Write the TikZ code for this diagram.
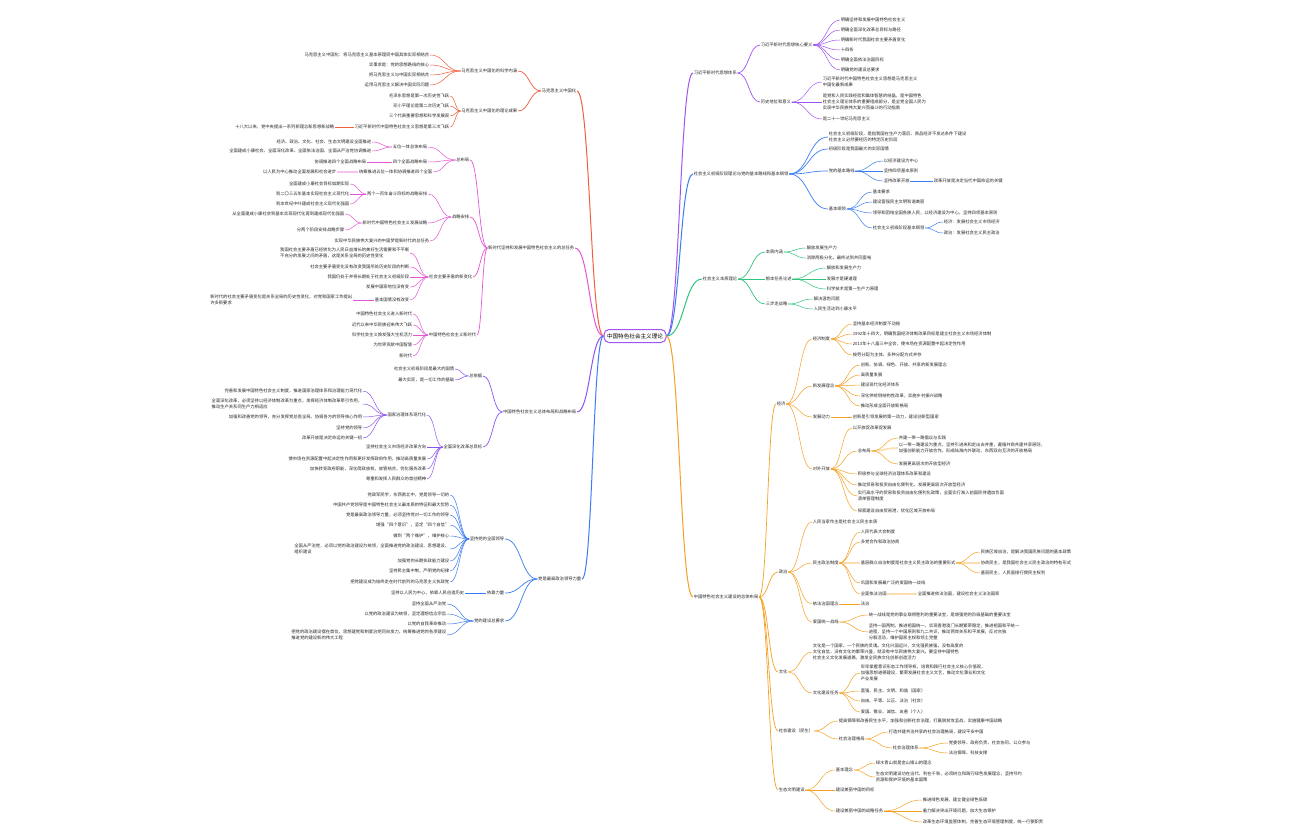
\documentclass[tikz,border=0pt]{standalone}
\usepackage{fontspec}
\setmainfont{Noto Sans CJK SC}
\usetikzlibrary{calc}
\definecolor{rd}{HTML}{F06040}
\definecolor{pk}{HTML}{E655D5}
\definecolor{pu}{HTML}{8C55EE}
\definecolor{bl}{HTML}{3C7DF2}
\definecolor{vi}{HTML}{A055F0}
\definecolor{gn}{HTML}{30C47E}
\definecolor{og}{HTML}{F5A020}
\tikzset{
 nd/.style={font=\fontsize{4.3}{6.3}\selectfont,inner sep=0.6pt,align=left,text=black!85},
 w3/.style={line width=1pt},
 w2/.style={line width=0.7pt},
 w1/.style={line width=0.5pt},
 pale/.style={line width=1.6pt,opacity=0.35},
}
\newcommand\lnk[3]{\draw[#1] let \p1=(#2), \p2=(#3) in (\p1) .. controls ({(\x1+\x2)/2},\y1) and ({(\x1+\x2)/2},\y2) .. (\p2);}
\newcommand\NL[6]{\node[nd,anchor=east] (#1) at (#2,#3) {#4}; \lnk{#6}{#5.west}{#1.east}}
\newcommand\NR[6]{\node[nd,anchor=west] (#1) at (#2,#3) {#4}; \lnk{#6}{#5.east}{#1.west}}
\begin{document}
\begin{tikzpicture}[x=1pt,y=-1pt]
\useasboundingbox[fill=white] (0,0) rectangle (1296,840);
\node[draw=vi,line width=1pt,rounded corners=5pt,font=\fontsize{5.6}{7}\selectfont,inner sep=3pt,minimum height=13pt] (c) at (635,336) {中国特色社会主义理论};
% ================= LEFT: L1 red
\NL{L1}{577}{91}{马克思主义中国化}{c}{rd,w3}
\NL{L1a}{518}{71}{马克思主义中国化的科学内涵}{L1}{rd,w2}
\NL{L1a1}{430}{55}{马克思主义中国化：将马克思主义基本原理同中国具体实际相结合}{L1a}{rd,w1}
\NL{L1a2}{430}{65}{实事求是：党的思想路线的核心}{L1a}{rd,w1}
\NL{L1a3}{430}{75}{把马克思主义与中国实际相结合}{L1a}{rd,w1}
\NL{L1a4}{430}{85}{运用马克思主义解决中国实际问题}{L1a}{rd,w1}
\NL{L1b}{518}{111}{马克思主义中国化的理论成果}{L1}{rd,w2}
\NL{L1b1}{450}{96}{毛泽东思想是第一次历史性飞跃}{L1b}{rd,w1}
\NL{L1b2}{450}{106}{邓小平理论是第二次历史飞跃}{L1b}{rd,w1}
\NL{L1b3}{450}{116}{三个代表重要思想和科学发展观}{L1b}{rd,w1}
\NL{L1b4}{450}{127}{习近平新时代中国特色社会主义思想是第三次飞跃}{L1b}{rd,w1}
\NL{L1b5}{335}{127}{十八大以来，党中央提出一系列新理念新思想新战略}{L1b4}{rd,w1}
% ================= L2 pink
\NL{L2}{575}{248}{新时代坚持和发展中国特色社会主义的总任务}{c}{pk,w3}
\NL{A}{470}{160}{总布局}{L2}{pk,w2}
\NL{A1}{428}{147}{五位一体总体布局}{A}{pk,w1}
\NL{A1x}{372}{142}{经济、政治、文化、社会、生态文明建设全面推进}{A1}{pk,w1}
\NL{A1y}{372}{151}{全面建成小康社会、全面深化改革、全面依法治国、全面从严治党协调推进}{A1}{pk,w1}
\NL{A2}{428}{162}{四个全面战略布局}{A}{pk,w1}
\NL{A2x}{367}{162}{协调推进四个全面战略布局}{A2}{pk,w1}
\NL{A3}{433}{172}{统筹推进五位一体和协调推进四个全面}{A}{pk,w1}
\NL{A3x}{337}{172}{以人民为中心推动全面发展和社会进步}{A3}{pk,pale}
\NL{B}{470}{217}{战略安排}{L2}{pk,w2}
\NL{B1}{428}{194}{两个一百年奋斗目标的战略安排}{B}{pk,w1}
\NL{B1x}{350}{184}{全面建成小康社会目标如期实现}{B1}{pk,w1}
\NL{B1y}{350}{194}{到二〇三五年基本实现社会主义现代化}{B1}{pk,w1}
\NL{B1z}{350}{204}{到本世纪中叶建成社会主义现代化强国}{B1}{pk,w1}
\NL{B2}{428}{223}{新时代中国特色社会主义发展战略}{B}{pk,w1}
\NL{B2x}{345}{214}{从全面建成小康社会到基本实现现代化再到建成现代化强国}{B2}{pk,w1}
\NL{B2y}{345}{230}{分两个阶段安排战略步骤}{B2}{pk,w1}
\NL{B3}{430}{241}{实现中华民族伟大复兴的中国梦是新时代的总任务}{B}{pk,w1}
\NL{C}{473}{277}{社会主要矛盾的新变化}{L2}{pk,w2}
\NL{C1}{410}{253}{我国社会主要矛盾已经转化为人民日益增长的美好生活需要和不平衡\\不充分的发展之间的矛盾，这是关系全局的历史性变化}{C}{pk,w1}
\NL{C2}{410}{267}{社会主要矛盾变化没有改变我国所处历史阶段的判断}{C}{pk,w1}
\NL{C3}{410}{277}{我国仍处于并将长期处于社会主义初级阶段}{C}{pk,w1}
\NL{C4}{410}{287}{发展中国家地位没有变}{C}{pk,w1}
\NL{C5}{410}{300}{基本国情没有改变}{C}{pk,w1}
\NL{C5x}{353}{300}{新时代的社会主要矛盾变化是关系全局的历史性变化，对党和国家工作提出\\许多新要求}{C5}{pk,w1}
\NL{D}{477}{335}{中国特色社会主义新时代}{L2}{pk,w2}
\NL{D1}{413}{314}{中国特色社会主义进入新时代}{D}{pk,w1}
\NL{D2}{413}{325}{近代以来中华民族迎来伟大飞跃}{D}{pk,w1}
\NL{D3}{413}{335}{科学社会主义焕发强大生机活力}{D}{pk,w1}
\NL{D4}{413}{345}{为世界贡献中国智慧}{D}{pk,w1}
\NL{D5}{413}{356}{新时代}{D}{pk,w1}
% ================= L3 purple
\NL{L3}{577}{412}{中国特色社会主义总体布局和战略布局}{c}{pu,w3}
\NL{E}{483}{376}{总依据}{L3}{pu,w2}
\NL{E1}{455}{369}{社会主义初级阶段是最大的国情}{E}{pu,w1}
\NL{E2}{455}{380}{最大实际，是一切工作的基础}{E}{pu,w1}
\NL{F}{483}{447}{全面深化改革总目标}{L3}{pu,w2}
\NL{F1}{427}{415}{国家治理体系现代化}{F}{pu,w1}
\NL{F1a}{363}{391}{完善和发展中国特色社会主义制度，推进国家治理体系和治理能力现代化}{F1}{pu,w1}
\NL{F1b}{363}{404}{全面深化改革，必须坚持以经济体制改革为重点，发挥经济体制改革牵引作用，\\推动生产关系同生产力相适应}{F1}{pu,w1}
\NL{F1c}{363}{417}{加强和改善党的领导，充分发挥党总揽全局、协调各方的领导核心作用}{F1}{pu,w1}
\NL{F1d}{363}{428}{坚持党的领导}{F1}{pu,w1}
\NL{F1e}{363}{438}{改革开放是决定命运的关键一招}{F1}{pu,w1}
\NL{F2}{427}{447}{坚持社会主义市场经济改革方向}{F}{pu,w1}
\NL{F3}{427}{459}{使市场在资源配置中起决定性作用和更好发挥政府作用，推动高质量发展}{F}{pu,w1}
\NL{F4}{427}{469}{加快转变政府职能，深化简政放权，放管结合，优化服务改革}{F}{pu,w1}
\NL{F5}{427}{479}{尊重和发挥人民群众的首创精神}{F}{pu,w1}
% ================= L4 blue
\NL{L4}{582}{579}{党是最高政治领导力量}{c}{bl,w3}
\NL{G}{505}{539}{坚持党的全面领导}{L4}{bl,w2}
\NL{G1}{450}{495}{党政军民学，东西南北中，党是领导一切的}{G}{bl,w1}
\NL{G2}{450}{505}{中国共产党领导是中国特色社会主义最本质的特征和最大优势}{G}{bl,w1}
\NL{G3}{450}{515}{党是最高政治领导力量，必须坚持党对一切工作的领导}{G}{bl,w1}
\NL{G4}{450}{525}{增强“四个意识”，坚定“四个自信”}{G}{bl,w1}
\NL{G5}{450}{536}{做到“两个维护”，维护核心}{G}{bl,w1}
\NL{G6}{450}{549}{全面从严治党，必须以党的政治建设为统领，全面推进党的政治建设、思想建设、\\组织建设}{G}{bl,w1}
\NL{G7}{450}{561}{加强党的长期执政能力建设}{G}{bl,w1}
\NL{G8}{450}{571}{坚持民主集中制，严明党的纪律}{G}{bl,w1}
\NL{G9}{450}{582}{把党建设成为始终走在时代前列的马克思主义执政党}{G}{bl,w1}
\NL{H}{505}{593}{依靠力量}{L4}{bl,w2}
\NL{H1}{465}{593}{坚持以人民为中心，依靠人民创造历史}{H}{bl,w1}
\NL{I}{505}{621}{党的建设总要求}{L4}{bl,w2}
\NL{I1}{447}{604}{坚持全面从严治党}{I}{bl,w1}
\NL{I2}{447}{614}{以党的政治建设为统领，坚定理想信念宗旨}{I}{bl,w1}
\NL{I3}{447}{624}{以党的自我革命推动}{I}{bl,w1}
\NL{I4}{447}{635}{把党的政治建设摆在首位，思想建党和制度治党同向发力，统筹推进党的各项建设\\推进党的建设新的伟大工程}{I}{bl,w1}
% ================= RIGHT: R1 violet
\NR{R1}{693}{73}{习近平新时代思想体系}{c}{vi,w3}
\NR{J}{760}{45}{习近平新时代思想核心要义}{R1}{vi,w2}
\NR{J1}{840}{20}{明确坚持和发展中国特色社会主义}{J}{vi,w1}
\NR{J2}{840}{30}{明确全面深化改革总目标与路径}{J}{vi,w1}
\NR{J3}{840}{40}{明确新时代我国社会主要矛盾变化}{J}{vi,w1}
\NR{J4}{840}{50}{十四条}{J}{vi,w1}
\NR{J5}{840}{60}{明确全面依法治国目标}{J}{vi,w1}
\NR{J6}{840}{70}{明确党的建设总要求}{J}{vi,w1}
\NR{K}{760}{102}{历史地位和意义}{R1}{vi,w2}
\NR{K1}{822}{82}{习近平新时代中国特色社会主义思想是马克思主义\\中国化最新成果}{K}{vi,w1}
\NR{K2}{822}{102}{是党和人民实践经验和集体智慧的结晶，是中国特色\\社会主义理论体系的重要组成部分，是全党全国人民为\\实现中华民族伟大复兴而奋斗的行动指南}{K}{vi,w1}
\NR{K3}{822}{119}{是二十一世纪马克思主义}{K}{vi,w1}
% ================= R2 blue
\NR{R2}{693}{174}{社会主义初级阶段理论与党的基本路线和基本纲领}{c}{bl,w3}
\NR{M1}{828}{137}{社会主义初级阶段，是指我国在生产力落后、商品经济不发达条件下建设\\社会主义必然要经历的特定历史阶段}{R2}{bl,w2}
\NR{M2}{828}{149}{初级阶段是我国最大的实际国情}{R2}{bl,w2}
\NR{M3}{828}{171}{党的基本路线}{R2}{bl,w2}
\NR{M3a}{883}{161}{以经济建设为中心}{M3}{bl,w1}
\NR{M3b}{883}{171}{坚持四项基本原则}{M3}{bl,w1}
\NR{M3c}{883}{181}{坚持改革开放}{M3}{bl,w1}
\NR{M3d}{933}{181}{改革开放是决定当代中国命运的关键}{M3c}{bl,w1}
\NR{M4}{828}{209}{基本纲领}{R2}{bl,w2}
\NR{M4a}{872}{192}{基本要求}{M4}{bl,w1}
\NR{M4b}{872}{202}{建设富强民主文明和谐美丽}{M4}{bl,w1}
\NR{M4c}{872}{213}{领导和团结全国各族人民，以经济建设为中心，坚持四项基本原则}{M4}{bl,w1}
\NR{M4d}{872}{228}{社会主义初级阶段基本纲领}{M4}{bl,w1}
\NR{M4e}{943}{222}{经济：发展社会主义市场经济}{M4d}{bl,w1}
\NR{M4f}{943}{233}{政治：发展社会主义民主政治}{M4d}{bl,w1}
% ================= R3 green
\NR{R3}{702}{279}{社会主义本质理论}{c}{gn,w3}
\NR{N1}{765}{252}{本质内涵}{R3}{gn,w2}
\NR{N1a}{806}{248}{解放发展生产力}{N1}{gn,w1}
\NR{N1b}{806}{258}{消除两极分化，最终达到共同富裕}{N1}{gn,w1}
\NR{N2}{765}{279}{根本任务论述}{R3}{gn,w2}
\NR{N2a}{826}{268}{解放和发展生产力}{N2}{gn,w1}
\NR{N2b}{826}{279}{发展才是硬道理}{N2}{gn,w1}
\NR{N2c}{826}{289}{科学技术是第一生产力原理}{N2}{gn,w1}
\NR{N3}{765}{304}{三步走战略}{R3}{gn,w2}
\NR{N3a}{813}{299}{解决温饱问题}{N3}{gn,w1}
\NR{N3b}{813}{309}{人民生活达到小康水平}{N3}{gn,w1}
% ================= R4 orange
\NR{R4}{693}{597}{中国特色社会主义建设的总体布局}{c}{og,w3}
\NR{P}{776}{404}{经济}{R4}{og,w2}
\NR{P1}{812}{339}{经济制度}{P}{og,w1}
\NR{P1a}{852}{324}{坚持基本经济制度不动摇}{P1}{og,w1}
\NR{P1b}{852}{334}{1992年十四大，明确我国经济体制改革目标是建立社会主义市场经济体制}{P1}{og,w1}
\NR{P1c}{852}{344}{2013年十八届三中全会，使市场在资源配置中起决定性作用}{P1}{og,w1}
\NR{P1d}{852}{355}{按劳分配为主体、多种分配方式并存}{P1}{og,w1}
\NR{P2}{812}{386}{新发展理念}{P}{og,w1}
\NR{P2a}{860}{365}{创新、协调、绿色、开放、共享的新发展理念}{P2}{og,w1}
\NR{P2b}{860}{375}{高质量发展}{P2}{og,w1}
\NR{P2c}{860}{385}{建设现代化经济体系}{P2}{og,w1}
\NR{P2d}{860}{396}{深化供给侧结构性改革，实施乡村振兴战略}{P2}{og,w1}
\NR{P2e}{860}{406}{推动形成全面开放新格局}{P2}{og,w1}
\NR{P3}{812}{417}{发展动力}{P}{og,w1}
\NR{P3a}{852}{417}{创新是引领发展的第一动力，建设创新型国家}{P3}{og,w1}
\NR{P4}{812}{469}{对外开放}{P}{og,w1}
\NR{P4a}{852}{428}{以开放促改革促发展}{P4}{og,w1}
\NR{P4b}{857}{451}{总布局}{P4}{og,w1}
\NR{P4b1}{898}{438}{共建一带一路倡议与实践}{P4b}{og,w1}
\NR{P4b2}{898}{448}{以一带一路建设为重点，坚持引进来和走出去并重，遵循共商共建共享原则，\\加强创新能力开放合作，形成陆海内外联动、东西双向互济的开放格局}{P4b}{og,pale}
\NR{P4b3}{898}{464}{发展更高层次的开放型经济}{P4b}{og,w1}
\NR{P4c}{857}{474}{积极参与全球经济治理体系改革和建设}{P4}{og,w1}
\NR{P4d}{857}{485}{推动贸易和投资自由化便利化，发展更高层次开放型经济}{P4}{og,w1}
\NR{P4e}{857}{496}{实行高水平的贸易和投资自由化便利化政策，全面实行准入前国民待遇加负面\\清单管理制度}{P4}{og,w1}
\NR{P4f}{857}{511}{探索建设自由贸易港，优化区域开放布局}{P4}{og,w1}
\NR{Q}{778}{572}{政治}{R4}{og,w2}
\NR{Q1}{812}{522}{人民当家作主是社会主义民主本质}{Q}{og,w1}
\NR{Q2}{812}{563}{民主政治制度}{Q}{og,w1}
\NR{Q2a}{860}{532}{人民代表大会制度}{Q2}{og,w1}
\NR{Q2b}{860}{542}{多党合作和政治协商}{Q2}{og,w1}
\NR{Q2c}{860}{563}{基层群众自治制度是社会主义民主政治的重要形式}{Q2}{og,pale}
\NR{Q2c1}{980}{552}{民族区域自治，是解决我国民族问题的基本政策}{Q2c}{og,w1}
\NR{Q2c2}{980}{563}{协商民主，是我国社会主义民主政治的特有形式}{Q2c}{og,pale}
\NR{Q2c3}{980}{573}{基层民主，人民直接行使民主权利}{Q2c}{og,w1}
\NR{Q2d}{860}{583}{巩固和发展最广泛的爱国统一战线}{Q2}{og,w1}
\NR{Q2e}{860}{594}{全面依法治国}{Q2}{og,w1}
\NR{Q2e1}{917}{594}{全面推进依法治国，建设社会主义法治国家}{Q2e}{og,pale}
\NR{Q3}{812}{604}{依法治国理念}{Q}{og,w1}
\NR{Q3a}{860}{604}{法治}{Q3}{og,w3}
\NR{Q4}{812}{622}{爱国统一战线}{Q}{og,w1}
\NR{Q4a}{868}{615}{统一战线是党的事业取得胜利的重要法宝，是增强党的阶级基础的重要法宝}{Q4}{og,w1}
\NR{Q4b}{868}{632}{坚持一国两制，推进祖国统一，实现香港澳门长期繁荣稳定，推进祖国和平统一\\进程，坚持一个中国原则和九二共识，推动两岸关系和平发展，反对台独\\分裂活动，维护国家主权和领土完整}{Q4}{og,w1}
\NR{S}{778}{672}{文化}{R4}{og,w2}
\NR{S1}{812}{652}{文化是一个国家、一个民族的灵魂。文化兴国运兴，文化强民族强。没有高度的\\文化自信，没有文化的繁荣兴盛，就没有中华民族伟大复兴。要坚持中国特色\\社会主义文化发展道路，激发全民族文化创新创造活力}{S}{og,w1}
\NR{S2}{812}{693}{文化建设任务}{S}{og,w1}
\NR{S2a}{860}{673}{牢牢掌握意识形态工作领导权，培育和践行社会主义核心价值观，\\加强思想道德建设，繁荣发展社会主义文艺，推动文化事业和文化\\产业发展}{S2}{og,w1}
\NR{S2b}{860}{691}{富强、民主、文明、和谐（国家）}{S2}{og,w1}
\NR{S2c}{860}{701}{自由、平等、公正、法治（社会）}{S2}{og,w1}
\NR{S2d}{860}{712}{爱国、敬业、诚信、友善（个人）}{S2}{og,w1}
\NR{T}{778}{731}{社会建设（民生）}{R4}{og,w2}
\NR{T1}{838}{721}{提高保障和改善民生水平，加强和创新社会治理，打赢脱贫攻坚战，实施健康中国战略}{T}{og,w1}
\NR{T2}{838}{739}{社会治理格局}{T}{og,w1}
\NR{T2a}{888}{732}{打造共建共治共享的社会治理格局，建设平安中国}{T2}{og,w1}
\NR{T2b}{892}{748}{社会治理体系}{T2}{og,w1}
\NR{T2b1}{948}{743}{党委领导、政府负责、社会协同、公众参与}{T2b}{og,w1}
\NR{T2b2}{948}{753}{法治保障、科技支撑}{T2b}{og,w1}
\NR{U}{778}{790}{生态文明建设}{R4}{og,w2}
\NR{U1}{835}{770}{基本理念}{U}{og,w1}
\NR{U1a}{875}{763}{绿水青山就是金山银山的理念}{U1}{og,w1}
\NR{U1b}{875}{777}{生态文明建设功在当代、利在千秋，必须树立和践行绿色发展理念，坚持节约\\资源和保护环境的基本国策}{U1}{og,w1}
\NR{U2}{835}{790}{建设美丽中国的目标}{U}{og,w1}
\NR{U3}{835}{811}{建设美丽中国的战略任务}{U}{og,w1}
\NR{U3a}{922}{800}{推进绿色发展，建立健全绿色低碳}{U3}{og,w1}
\NR{U3b}{922}{811}{着力解决突出环境问题，加大生态保护}{U3}{og,w1}
\NR{U3c}{922}{822}{改革生态环境监管体制，完善生态环境管理制度，统一行使职责}{U3}{og,w1}
\end{tikzpicture}
\end{document}
